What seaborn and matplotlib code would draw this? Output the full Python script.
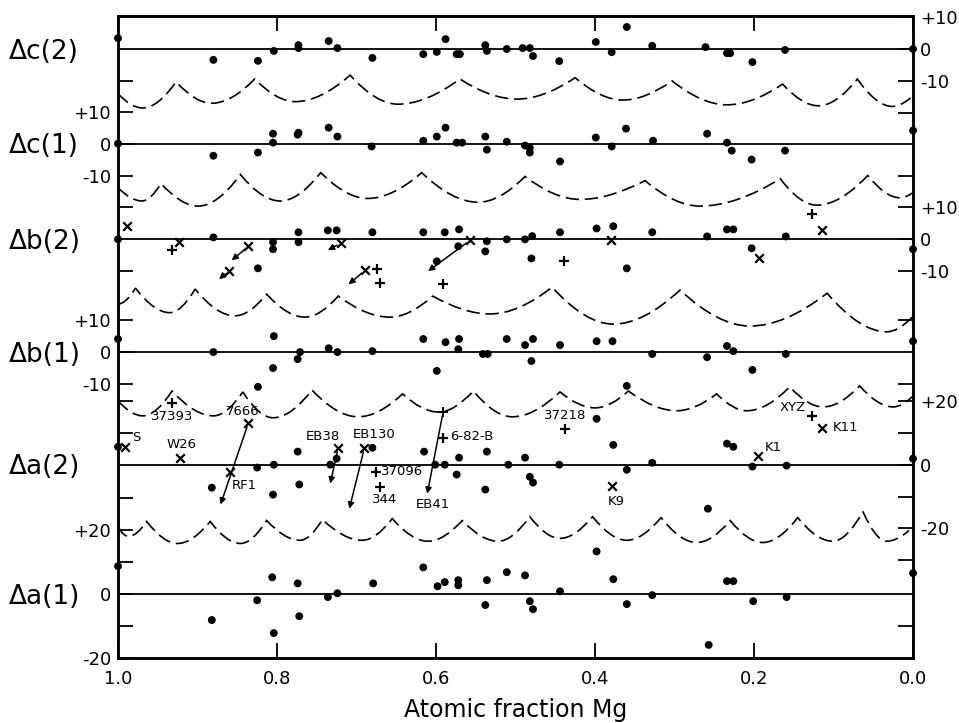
import matplotlib
matplotlib.use("Agg")
import matplotlib.pyplot as plt
import matplotlib.transforms as mtransforms
from matplotlib.path import Path
from matplotlib.patches import PathPatch
import pandas as pd
import seaborn as sns

# panel names (bottom to top) and their vertical offsets in data units
PANELS = ["Δa(1)", "Δa(2)", "Δb(1)", "Δb(2)", "Δc(1)", "Δc(2)"]
OFFSETS = [0.0, 40.6, 75.9, 111.25, 141.25, 170.9]

X_TICKS = [1.0, 0.8, 0.6, 0.4, 0.2, 0.0]
X_TICK_LABELS = ["1.0", "0.8", "0.6", "0.4", "0.2", "0.0"]

# (panel, value, label) for the tick marks on each side
LEFT_TICKS = [
    ("Δc(2)", -10, ""),
    ("Δc(1)", 10, "+10"), ("Δc(1)", 0, "0"), ("Δc(1)", -10, "-10"), ("Δc(1)", -20, ""),
    ("Δb(2)", -10, ""),
    ("Δb(1)", 10, "+10"), ("Δb(1)", 0, "0"), ("Δb(1)", -10, "-10"),
    ("Δa(2)", 20, ""), ("Δa(2)", 10, ""),
    ("Δa(1)", 30, ""), ("Δa(1)", 20, "+20"), ("Δa(1)", 10, ""), ("Δa(1)", 0, "0"),
    ("Δa(1)", -10, ""), ("Δa(1)", -20, "-20"),
]
RIGHT_TICKS = [
    ("Δc(2)", 10, "+10"), ("Δc(2)", 0, "0"), ("Δc(2)", -10, "-10"), ("Δc(2)", -20, ""),
    ("Δb(2)", 20, ""), ("Δb(2)", 10, "+10"), ("Δb(2)", 0, "0"), ("Δb(2)", -10, "-10"),
    ("Δb(1)", 10, ""), ("Δb(1)", -10, ""),
    ("Δa(2)", 20, "+20"), ("Δa(2)", 10, ""), ("Δa(2)", 0, "0"), ("Δa(2)", -10, ""),
    ("Δa(2)", -20, "-20"), ("Δa(2)", -30, ""),
    ("Δa(1)", -10, ""),
]

# measured points (x = atomic fraction Mg, value)
c2_dots = [(1.0, 3.4), (0.880, -3.4), (0.824, -3.7), (0.804, -0.6), (0.773, 1.2), (0.773, 0.3),
           (0.735, 2.5), (0.724, 0.3), (0.680, -2.8), (0.616, -1.6), (0.599, -0.9), (0.588, 3.1),
           (0.574, -1.6), (0.570, -1.6), (0.538, 1.2), (0.536, -0.6), (0.511, 0.0), (0.491, 0.3),
           (0.482, 0.3), (0.478, -2.2), (0.445, -3.8), (0.399, 2.2), (0.379, -1.0), (0.360, 6.9),
           (0.328, 1.0), (0.261, 0.6), (0.234, -1.3), (0.230, -1.3), (0.202, -4.1), (0.161, -0.3),
           (0.0, 0.0)]
c1_dots = [(1.0, 0.0), (0.880, -3.8), (0.824, -2.8), (0.805, 3.1), (0.805, 0.3), (0.774, 2.8),
           (0.773, 3.4), (0.735, 5.0), (0.724, 2.2), (0.681, -0.9), (0.616, 0.9), (0.599, 2.2),
           (0.588, 5.0), (0.574, 0.3), (0.567, 0.3), (0.538, 2.2), (0.536, -1.9), (0.511, 0.6),
           (0.488, -0.6), (0.482, -1.3), (0.482, -2.8), (0.444, -5.6), (0.399, 1.9), (0.379, -0.9),
           (0.361, 4.7), (0.327, 0.9), (0.259, 3.1), (0.234, 0.3), (0.228, -2.2), (0.203, -5.0),
           (0.161, -2.2), (0.0, 4.1)]
b2_dots = [(1.0, 0.0), (0.880, 0.6), (0.824, -9.1), (0.805, -0.9), (0.805, -3.1), (0.773, 2.2),
           (0.773, -0.9), (0.736, 2.8), (0.725, 2.8), (0.680, 2.2), (0.616, 2.2), (0.589, 2.2),
           (0.571, 3.1), (0.572, -2.2), (0.599, -6.9), (0.536, -0.6), (0.538, -3.8), (0.511, 0.0),
           (0.488, 0.0), (0.479, 1.0), (0.480, -6.0), (0.444, 2.2), (0.398, 3.4), (0.377, 4.1),
           (0.360, -9.1), (0.328, 2.2), (0.259, 0.9), (0.234, 3.1), (0.226, 3.1), (0.203, -2.8),
           (0.160, 0.9), (0.0, -3.1)]
b1_dots = [(1.0, 4.1), (0.880, 0.0), (0.804, 5.0), (0.805, -5.0), (0.824, -10.9), (0.771, 0.0),
           (0.774, -2.2), (0.735, 1.2), (0.724, 0.0), (0.680, 0.3), (0.616, 4.1), (0.588, 3.1),
           (0.571, 4.1), (0.572, 0.9), (0.599, -5.9), (0.541, -0.6), (0.535, -0.6), (0.511, 4.1),
           (0.488, 2.2), (0.478, 4.1), (0.480, -2.8), (0.444, 2.2), (0.398, 3.4), (0.378, 3.4),
           (0.360, -10.6), (0.328, -0.6), (0.259, -1.6), (0.234, 1.9), (0.226, 0.3), (0.202, -5.6),
           (0.160, -0.6), (0.0, 3.4)]
a2_dots = [(1.0, 5.6), (0.882, -7.2), (0.825, -0.9), (0.804, 0.0), (0.805, -9.4), (0.774, 4.1),
           (0.772, -6.2), (0.733, 0.0), (0.725, 1.9), (0.680, 5.3), (0.615, 4.1), (0.601, 0.0),
           (0.589, 0.0), (0.571, 2.2), (0.574, -3.1), (0.536, 4.1), (0.538, -7.8), (0.509, 0.0),
           (0.488, 2.2), (0.482, -3.8), (0.478, -5.6), (0.445, 0.0), (0.398, 14.4), (0.377, 6.2),
           (0.360, -1.6), (0.328, 0.6), (0.258, -13.8), (0.234, 6.6), (0.226, 5.6), (0.202, -0.6),
           (0.159, -0.3), (0.0, 1.9)]
a1_dots = [(1.0, 8.8), (0.882, -8.1), (0.825, -1.9), (0.806, 5.3), (0.804, -12.2), (0.774, 3.4),
           (0.772, -6.9), (0.736, -0.9), (0.724, 0.3), (0.679, 3.4), (0.616, 8.4), (0.598, 2.5),
           (0.589, 3.8), (0.572, 4.4), (0.572, 2.8), (0.536, 4.4), (0.538, -3.4), (0.511, 6.9),
           (0.488, 5.9), (0.482, -2.2), (0.478, -4.7), (0.444, 0.9), (0.398, 13.4), (0.377, 4.7),
           (0.360, -3.1), (0.328, -0.3), (0.257, -15.9), (0.234, 4.1), (0.226, 4.1), (0.201, -2.2),
           (0.159, -0.9), (0.0, 6.6)]

# calculated curves: alternating cusps and troughs
c2_wave = [(1.0, -14), (0.969, -18.5), (0.927, -10.3), (0.882, -17), (0.828, -9.4), (0.777, -16.5),
           (0.708, -8.2), (0.648, -17.3), (0.570, -9.4), (0.498, -15.7), (0.425, -9), (0.365, -16),
           (0.303, -10), (0.234, -17.5), (0.164, -11), (0.119, -17.8), (0.070, -9.4), (0.026, -18),
           (0.003, -15.3)]
c1_wave = [(1.0, -13.8), (0.970, -18), (0.946, -12.5), (0.899, -19.6), (0.846, -9.7), (0.796, -18),
           (0.745, -9.1), (0.686, -17.2), (0.618, -9.1), (0.547, -18.4), (0.488, -10.3), (0.419, -17.5),
           (0.337, -11.6), (0.268, -19.6), (0.167, -11), (0.121, -19.3), (0.057, -10), (0.016, -17),
           (0.001, -15.5)]
b2_wave = [(1.0, -20.3), (0.978, -15.3), (0.935, -23), (0.903, -15.6), (0.853, -24), (0.813, -17.2),
           (0.765, -24.4), (0.723, -17.8), (0.658, -24.4), (0.604, -17.8), (0.532, -23.4), (0.454, -15),
           (0.377, -26.6), (0.293, -15.9), (0.205, -27.2), (0.108, -16.9), (0.033, -29), (0.001, -24.4)]
b1_wave = [(1.0, -15.3), (0.969, -20), (0.932, -12.2), (0.880, -20), (0.843, -12.5), (0.805, -20.6),
           (0.756, -11.9), (0.698, -20.3), (0.642, -13.1), (0.597, -18.8), (0.553, -12.2), (0.504, -20.3),
           (0.444, -12.5), (0.400, -17.5), (0.358, -12.2), (0.297, -18.4), (0.247, -13.1), (0.209, -18.4),
           (0.155, -10.9), (0.113, -17.2), (0.067, -10.6), (0.025, -17.2), (0.001, -14)]
a2_wave = [(1.0, -19.4), (0.987, -22.5), (0.964, -17.8), (0.925, -24.7), (0.884, -17.8), (0.846, -24.7),
           (0.813, -17.5), (0.771, -23.7), (0.743, -17.2), (0.693, -23.7), (0.655, -16.9), (0.610, -24),
           (0.567, -17.5), (0.522, -24), (0.482, -16.3), (0.444, -23.1), (0.403, -16.3), (0.360, -23.7),
           (0.317, -16.6), (0.272, -24.4), (0.230, -17.5), (0.189, -24.4), (0.145, -16.6), (0.101, -24),
           (0.063, -14.7), (0.033, -24), (0.005, -20.6)]

# Δb(2) crosses, pluses and shift arrows (x0, v0, x1, v1)
b2_cross = [(0.989, 4.1), (0.923, -0.9), (0.836, -2.2), (0.861, -10), (0.720, -1.2), (0.689, -9.7),
            (0.557, -0.3), (0.380, -0.3), (0.194, -6.0), (0.114, 2.8)]
b2_plus = [(0.932, -3.4), (0.674, -9.4), (0.670, -13.8), (0.591, -14.1), (0.439, -6.9), (0.127, 7.8)]
b2_arrows = [(0.836, -2.2, 0.857, -6.6), (0.861, -10, 0.873, -12.5), (0.720, -1.2, 0.736, -3.4),
             (0.689, -9.7, 0.710, -14.1), (0.557, -0.3, 0.610, -10)]

# Δa(2) labelled specimens: (name, x, value)
a2_cross = [("S", 0.991, 5.6), ("W26", 0.922, 2.2), ("7666", 0.836, 13.1), ("RF1", 0.859, -2.2),
            ("EB38", 0.723, 5.3), ("EB130", 0.690, 5.3), ("K9", 0.379, -6.6), ("K1", 0.195, 2.8),
            ("K11", 0.114, 11.6)]
a2_plus = [("37393", 0.932, 19.4), ("+37096", 0.675, -2.2), ("344", 0.670, -6.9),
           ("6-82-B", 0.591, 8.4), ("37218", 0.438, 11.2), ("XYZ", 0.127, 15.3)]
a2_arrows = [("7666", 0.836, 13.1, 0.871, -12.5), ("EB38", 0.723, 5.3, 0.733, -5.9),
             ("EB130", 0.690, 5.3, 0.709, -13.8), ("EB41", 0.591, 16.6, 0.611, -9.1)]

# label placement (pixels, relative to the marker) and alignment
LABEL_STYLE = {
    "S": (11, 9, "center"), "W26": (2, 13, "center"), "7666": (-6, 11, "center"),
    "RF1": (14, -14, "center"), "EB38": (-15, 11, "center"), "EB130": (10, 13, "center"),
    "K9": (5, -16, "center"), "K1": (15, 8, "center"), "K11": (10, 0, "left"),
    "37393": (0, -14, "center"), "+37096": (5, 0, "left"), "344": (4, -13, "center"),
    "6-82-B": (7, 1, "left"), "37218": (0, 13, "center"), "XYZ": (-19, 8, "center"),
}

off = dict(zip(PANELS, OFFSETS))


def wave_path(points, shift):
    pts = [(x, v + shift) for x, v in points]
    verts, codes = [pts[0]], [Path.MOVETO]
    for (xa, ya), (xb, yb) in zip(pts[:-1], pts[1:]):
        if ya >= yb:
            ctrl = (xa + 0.55 * (xb - xa), yb)
        else:
            ctrl = (xb + 0.55 * (xa - xb), ya)
        verts += [ctrl, (xb, yb)]
        codes += [Path.CURVE3, Path.CURVE3]
    return Path(verts, codes)


sns.set_theme(style="ticks")
plt.rcParams["font.family"] = ["DejaVu Sans"]
plt.rcParams.update({"text.color": "black", "axes.labelcolor": "black",
                     "xtick.color": "black", "ytick.color": "black"})

fig = plt.figure(figsize=(9.59, 7.23), dpi=100)
ax = fig.add_axes([118 / 959, 1 - 658 / 723, 795 / 959, 642 / 723])
ax.set_xlim(1.0, 0.0)
ax.set_ylim(-19.4, 181.25)

# baselines
for name in PANELS:
    ax.axhline(off[name], color="black", lw=1.3, zorder=1)

# dashed calculated curves
for name, wave in [("Δc(2)", c2_wave), ("Δc(1)", c1_wave), ("Δb(2)", b2_wave),
                   ("Δb(1)", b1_wave), ("Δa(2)", a2_wave)]:
    ax.add_patch(PathPatch(wave_path(wave, off[name]), fill=False, color="black",
                           lw=1.2, linestyle=(0, (8, 3.5)), zorder=2))

# dots
rows = []
for name, dots in [("Δc(2)", c2_dots), ("Δc(1)", c1_dots), ("Δb(2)", b2_dots),
                   ("Δb(1)", b1_dots), ("Δa(2)", a2_dots), ("Δa(1)", a1_dots)]:
    for x, v in dots:
        rows.append({"panel": name, "x": x, "y": v + off[name]})
dots_df = pd.DataFrame(rows)
sns.scatterplot(data=dots_df, x="x", y="y", color="black", s=32, edgecolor="none",
                legend=False, ax=ax, zorder=4, clip_on=False)

# crosses and pluses
cross_x = [x for x, v in b2_cross] + [x for _, x, v in a2_cross]
cross_y = [v + off["Δb(2)"] for x, v in b2_cross] + [v + off["Δa(2)"] for _, x, v in a2_cross]
ax.scatter(cross_x, cross_y, marker="x", s=38, linewidths=1.6, color="black", zorder=4)
plus_x = [x for x, v in b2_plus] + [x for _, x, v in a2_plus]
plus_y = [v + off["Δb(2)"] for x, v in b2_plus] + [v + off["Δa(2)"] for _, x, v in a2_plus]
ax.scatter(plus_x, plus_y, marker="+", s=45, linewidths=1.6, color="black", zorder=4)

arrow_kw = dict(arrowstyle="-|>", color="black", lw=1.1, mutation_scale=9, shrinkA=3, shrinkB=0)
for x0, v0, x1, v1 in b2_arrows:
    ax.annotate("", xy=(x1, v1 + off["Δb(2)"]), xytext=(x0, v0 + off["Δb(2)"]), arrowprops=arrow_kw)
for name, x0, v0, x1, v1 in a2_arrows:
    ax.annotate("", xy=(x1, v1 + off["Δa(2)"]), xytext=(x0, v0 + off["Δa(2)"]), arrowprops=arrow_kw)
    if name == "EB41":
        ax.plot([x0], [v0 + off["Δa(2)"]], marker="+", ms=7, mew=1.4, color="black")
        ax.annotate(name, (x1, v1 + off["Δa(2)"]), xytext=(6, -11), textcoords="offset pixels",
                    ha="center", va="center", fontsize=9.5)

for name, x, v in a2_cross + a2_plus:
    dx, dy, ha = LABEL_STYLE[name]
    text = name.lstrip("+")
    ax.annotate(text, (x, v + off["Δa(2)"]), xytext=(dx, dy), textcoords="offset pixels",
                ha=ha, va="center", fontsize=9.5)

# panel names at the left
trans = mtransforms.blended_transform_factory(ax.transAxes, ax.transData)
for name in PANELS:
    ax.text(-0.137, off[name] - 0.8, name, transform=trans, ha="left", va="center", fontsize=19)

# ticks
ax.set_xticks(X_TICKS)
ax.set_xticklabels(X_TICK_LABELS)
ax.set_yticks([off[p] + v for p, v, _ in LEFT_TICKS])
ax.set_yticklabels([lab for _, _, lab in LEFT_TICKS])
ax.tick_params(axis="both", direction="in", length=11, width=1.3, labelsize=13, colors="black")
ax.tick_params(axis="x", top=True, bottom=True, pad=9)
ax.tick_params(axis="y", pad=5)
ax.set_xlabel("Atomic fraction Mg", fontsize=17, labelpad=7)
ax.set_ylabel("")

ax2 = ax.twinx()
ax2.set_ylim(ax.get_ylim())
ax2.set_yticks([off[p] + v for p, v, _ in RIGHT_TICKS])
ax2.set_yticklabels([lab for _, _, lab in RIGHT_TICKS])
ax2.tick_params(axis="y", direction="in", length=11, width=1.3, labelsize=13, pad=5, colors="black")

for a in (ax, ax2):
    for sp in a.spines.values():
        sp.set_linewidth(1.8)
        sp.set_color("black")

fig.savefig("out.png", dpi=100)
